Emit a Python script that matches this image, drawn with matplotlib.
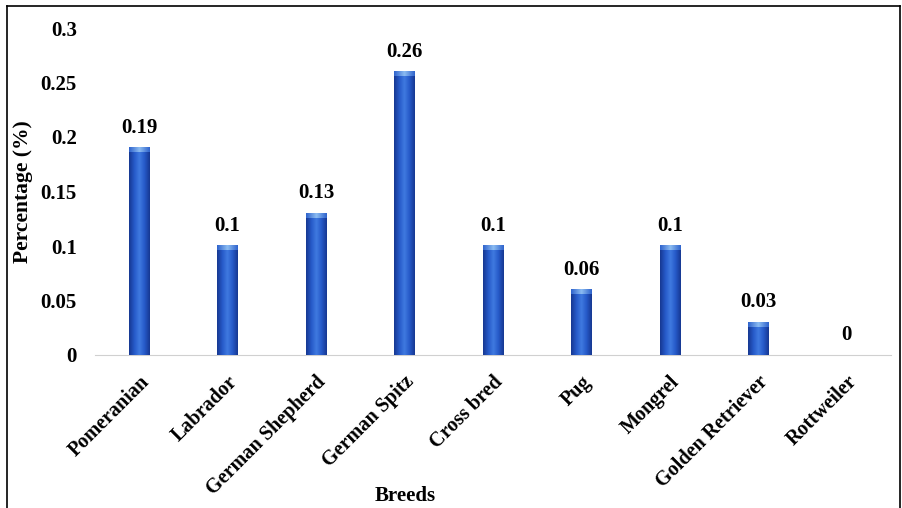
import numpy as np
import matplotlib
matplotlib.use('Agg')
from matplotlib import pyplot as plt
from matplotlib.colors import LinearSegmentedColormap
from matplotlib.lines import Line2D

breeds = ['Pomeranian', 'Labrador', 'German Shepherd', 'German Spitz', 'Cross bred',
          'Pug', 'Mongrel', 'Golden Retriever', 'Rottweiler']
percent = [0.19, 0.1, 0.13, 0.26, 0.1, 0.06, 0.1, 0.03, 0]
yticks = [0, 0.05, 0.1, 0.15, 0.2, 0.25, 0.3]

plt.rcParams['font.family'] = ['Liberation Serif', 'DejaVu Serif']
plt.rcParams['font.weight'] = 'bold'

fig = plt.figure(figsize=(9.03, 5.08), dpi=100)
ax = fig.add_axes([95 / 903, 153 / 508, 796 / 903, 327 / 508])

x = np.arange(len(breeds))
bars = ax.bar(x, percent, width=0.23, color='#2658c6', zorder=2)

# cylinder look: horizontal gradient clipped to every bar
cyl = LinearSegmentedColormap.from_list('cyl', ['#163892', '#2659c8', '#3f7ae0', '#2659c8', '#163892'])
cap = LinearSegmentedColormap.from_list('cap', ['#2f63cc', '#8cbcf2', '#2f63cc'])
grad = np.linspace(0, 1, 64).reshape(1, -1)
for b in bars:
    h = b.get_height()
    if h <= 0:
        continue
    x0 = b.get_x()
    w = b.get_width()
    ax.imshow(grad, cmap=cyl, aspect='auto', extent=(x0, x0 + w, 0, h), zorder=3)
    ax.imshow(grad, cmap=cap, aspect='auto', extent=(x0, x0 + w, h - 0.004, h), zorder=4)

for xi, v in zip(x, percent):
    ax.text(xi, v + 0.009, f'{v:g}', ha='center', va='bottom', fontsize=15, fontweight='bold')

ax.set_xlim(-0.5, len(breeds) - 0.5)
ax.set_ylim(0, 0.3)
ax.set_yticks(yticks)
ax.set_yticklabels([f'{t:g}' for t in yticks], fontsize=15, fontweight='bold')
ax.set_xticks(x)
ax.set_xticklabels(breeds, rotation=45, ha='right', rotation_mode='anchor',
                   fontsize=14.5, fontweight='bold')
ax.tick_params(length=0)
ax.tick_params(axis='x', pad=12)
ax.tick_params(axis='y', pad=13)

for s in ['top', 'right', 'left']:
    ax.spines[s].set_visible(False)
ax.spines['bottom'].set_color('#d0d0d0')

ax.set_xlabel('Breeds', fontsize=15, fontweight='bold')
ax.xaxis.set_label_coords(0.39, -0.40)
ax.set_ylabel('Percentage (%)', fontsize=15.5, fontweight='bold')
ax.yaxis.set_label_coords(-0.078, 0.5)

# thin frame around the picture
fx0, fx1, fy1 = 7 / 903, 900 / 903, 502 / 508
fig.add_artist(Line2D([fx0, fx0], [0, fy1], color='black', lw=1.2))
fig.add_artist(Line2D([fx0, fx1], [fy1, fy1], color='black', lw=1.2))
fig.add_artist(Line2D([fx1, fx1], [0, fy1], color='black', lw=1.2))

fig.savefig('out.png', dpi=100)
